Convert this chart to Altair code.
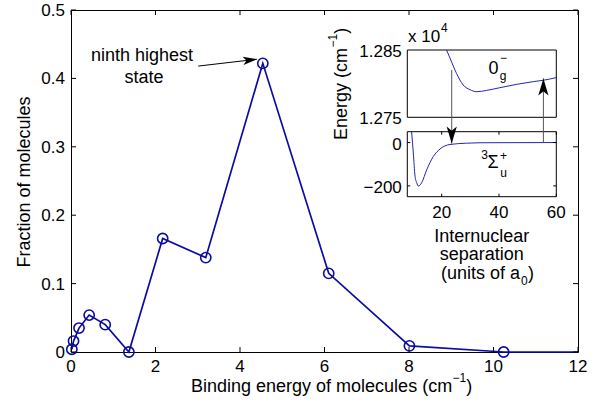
import altair as alt
import pandas as pd

# ---------------- data ----------------
binding_energy = [0.02, 0.06, 0.19, 0.43, 0.81, 1.37, 2.17, 3.19, 4.54, 6.10, 8.01, 10.24]
fraction = [0.004, 0.016, 0.035, 0.054, 0.040, 0.000, 0.166, 0.138, 0.422, 0.115, 0.009, 0.000]
tail_energy = [12.0]
tail_fraction = [0.0]

main_x_domain = [0, 12]
main_y_domain = [0, 0.5]
main_x_ticks = [0, 2, 4, 6, 8, 10, 12]
main_x_labels = ["0", "2", "4", "6", "8", "10", "12"]
main_y_ticks = [0, 0.1, 0.2, 0.3, 0.4, 0.5]
main_y_labels = ["0", "0.1", "0.2", "0.3", "0.4", "0.5"]
main_x_title = ["Binding energy of molecules (cm", "−1", ")"]
main_y_title = "Fraction of molecules"

note_lines = ["ninth highest", "state"]
note_x = [1.68, 1.73]
note_y = [0.4254, 0.3933]
note_arrow_tail = [3.01, 0.418]
note_arrow_tip = [4.40, 0.428]

inset_x_domain = [8, 60]
inset_x_ticks = [20, 40, 60]
inset_x_labels = ["20", "40", "60"]
inset_x_title = ["Internuclear", "separation"]
inset_x_title_last = ["(units of a", "0", ")"]
inset_y_title = ["Energy (cm", "−1", ")"]
upper_y_domain = [12750, 12850]
upper_y_labels = ["1.275", "1.285"]
upper_scale_note = ["x 10", "4"]
lower_y_domain = [-250, 50]
lower_y_ticks = [-200, 0]
lower_y_labels = ["−200", "0"]

upper_sep = [21.7, 22.9, 25.2, 27.5, 29.9, 32.2, 35.7, 40.3, 46.2, 52.0, 55.4, 60.0]
upper_energy = [12850, 12838, 12815, 12798, 12791, 12788, 12790, 12794, 12799, 12803, 12805, 12809]
lower_sep = [9.5, 10.1, 10.7, 11.3, 11.8, 12.4, 13.0, 14.8, 17.1, 19.4, 22.9, 28.7, 33.4, 60.0]
lower_energy = [50, -48, -155, -186, -201, -197, -186, -125, -64, -30, -9, -3, -1, 0]

arrow_sep = [23.5, 55.5]
arrow_from = [335, 0]
arrow_to = [-5, 296]
arrow_angle = [90, 270]

# ---------------- styles / layout ----------------
FONT = "Liberation Sans"
FS = 17     # tick labels
FT = 18     # titles / annotations
FSUB = 12   # sub- and superscripts
BLUE = "#0c0ca2"
BLUE2 = "#2424b4"
W, H = 507, 342
INSET_X_RANGE = [336.3, 485.3]
UPPER_RANGE = [107.3, 40.0]
LOWER_RANGE = [186.7, 121.7]
ARROW = "M0,0 L-2,-0.6 L-1.5,0 L-2,0.6 Z"


def txt(df, x, y, text=None, **kw):
    style = dict(font=FONT, fontSize=FS, color="black", align="center", baseline="alphabetic")
    style.update(kw)
    if text is not None:
        style["text"] = text
        return alt.Chart(df).mark_text(**style).encode(x=x, y=y)
    return alt.Chart(df).mark_text(**style).encode(x=x, y=y, text="lab:N")


one = pd.DataFrame({"k": [0]})

# ---------------- main plot ----------------
xs = alt.Scale(domain=main_x_domain, nice=False, zero=False)
ys = alt.Scale(domain=main_y_domain, nice=False, zero=False)
def MX(f): return alt.X(f, type="quantitative", scale=xs, axis=None)
def MY(f): return alt.Y(f, type="quantitative", scale=ys, axis=None)

main_df = pd.DataFrame({"e": binding_energy, "f": fraction})
line_df = pd.DataFrame({"e": binding_energy + tail_energy, "f": fraction + tail_fraction})

line = alt.Chart(line_df).mark_line(color=BLUE, strokeWidth=1.7).encode(x=MX("e"), y=MY("f"))
pts = alt.Chart(main_df).mark_point(shape="circle", filled=False, color=BLUE, size=105,
                                    strokeWidth=1.6, opacity=1).encode(x=MX("e"), y=MY("f"))

xt = pd.DataFrame({"e": main_x_ticks, "lab": main_x_labels,
                   "lo": main_y_domain[0], "hi": main_y_domain[1]})
yt = pd.DataFrame({"f": main_y_ticks, "lab": main_y_labels,
                   "lo": main_x_domain[0], "hi": main_x_domain[1]})
tick_b = alt.Chart(xt).mark_rule(color="black", strokeWidth=1, y2Offset=-5).encode(
    x=MX("e"), y=MY("lo"), y2="lo:Q")
tick_t = alt.Chart(xt).mark_rule(color="black", strokeWidth=1, y2Offset=5).encode(
    x=MX("e"), y=MY("hi"), y2="hi:Q")
tick_l = alt.Chart(yt).mark_rule(color="black", strokeWidth=1, x2Offset=5).encode(
    y=MY("f"), x=MX("lo"), x2="lo:Q")
tick_r = alt.Chart(yt).mark_rule(color="black", strokeWidth=1, x2Offset=-5).encode(
    y=MY("f"), x=MX("hi"), x2="hi:Q")

xlab = txt(xt, MX("e"), MY("lo"), dy=20)
ylab = txt(yt, MX("lo"), MY("f"), align="right", baseline="middle", dx=-6, dy=1)
xtitle = [
    txt(one, alt.value(120), alt.value(381.7), text=main_x_title[0], fontSize=FT, align="left"),
    txt(one, alt.value(381.5), alt.value(372), text=main_x_title[1], fontSize=FSUB, align="left"),
    txt(one, alt.value(395.2), alt.value(381.7), text=main_x_title[2], fontSize=FT, align="left"),
]
ytitle = txt(one, alt.value(-41), alt.value(172), text=main_y_title, angle=270, fontSize=FT)

note_df = pd.DataFrame({"e": note_x, "f": note_y, "lab": note_lines})
note_text = txt(note_df, MX("e"), MY("f"), fontSize=FT)
arr_df = pd.DataFrame({"e": [note_arrow_tail[0]], "f": [note_arrow_tail[1]],
                       "e2": [note_arrow_tip[0]], "f2": [note_arrow_tip[1]]})
note_rule = alt.Chart(arr_df).mark_rule(color="black", strokeWidth=1).encode(
    x=MX("e"), y=MY("f"), x2="e2:Q", y2="f2:Q")
note_head = alt.Chart(arr_df).mark_point(shape=ARROW, filled=True, color="black", size=196,
                                         angle=353.4, opacity=1, strokeWidth=0).encode(
    x=MX("e2"), y=MY("f2"))

main = alt.layer(line, pts, tick_b, tick_t, tick_l, tick_r, xlab, ylab, *xtitle, ytitle,
                 note_text, note_rule, note_head)

# ---------------- inset: upper panel ----------------
xi = alt.Scale(domain=inset_x_domain, range=INSET_X_RANGE, nice=False, zero=False)
yu = alt.Scale(domain=upper_y_domain, range=UPPER_RANGE, nice=False, zero=False)
yl = alt.Scale(domain=lower_y_domain, range=LOWER_RANGE, nice=False, zero=False)
def IX(f): return alt.X(f, type="quantitative", scale=xi, axis=None)
def UY(f): return alt.Y(f, type="quantitative", scale=yu, axis=None)
def LY(f): return alt.Y(f, type="quantitative", scale=yl, axis=None)

up_box_df = pd.DataFrame({"r": [inset_x_domain[0]], "r2": [inset_x_domain[1]],
                          "E": [upper_y_domain[0]], "E2": [upper_y_domain[1]]})
up_box = alt.Chart(up_box_df).mark_rect(fill="white", stroke="black", strokeWidth=1).encode(
    x=IX("r"), x2="r2:Q", y=UY("E"), y2="E2:Q")
up_df = pd.DataFrame({"r": upper_sep, "E": upper_energy})
up_curve = alt.Chart(up_df).mark_line(color=BLUE2, strokeWidth=1, interpolate="monotone").encode(
    x=IX("r"), y=UY("E"))

uyl_df = pd.DataFrame({"E": upper_y_domain, "lab": upper_y_labels, "r0": inset_x_domain[0]})
up_ylab = txt(uyl_df, IX("r0"), UY("E"), align="right", baseline="middle", dx=-5.5, dy=2)
up_title = [
    txt(one, alt.value(275.7), alt.value(130), text=inset_y_title[0], angle=270,
        fontSize=FT, align="left"),
    txt(one, alt.value(266), alt.value(37.5), text=inset_y_title[1], angle=270,
        fontSize=FSUB, align="left"),
    txt(one, alt.value(275.7), alt.value(23.8), text=inset_y_title[2], angle=270,
        fontSize=FT, align="left"),
]

x10_df = pd.DataFrame({"r": [8.24], "E": [12862]})
x10 = txt(x10_df, IX("r"), UY("E"), text=upper_scale_note[0], align="left")
x10_exp = txt(x10_df, IX("r"), UY("E"), text=upper_scale_note[1], align="left",
              fontSize=FSUB, dx=33, dy=-9.5)

og_df = pd.DataFrame({"r": [38.1], "E": [12815]})
og_main = txt(og_df, IX("r"), UY("E"), text="0", fontSize=FT)
og_sub = txt(og_df, IX("r"), UY("E"), text="g", fontSize=FSUB, dx=9.5, dy=6)
og_sup = txt(og_df, IX("r"), UY("E"), text="−", fontSize=FSUB, dx=10, dy=-12)

upper = alt.layer(up_box, up_curve, up_ylab, *up_title, x10, x10_exp, og_main, og_sub, og_sup)

# ---------------- inset: lower panel ----------------
lo_box_df = pd.DataFrame({"r": [inset_x_domain[0]], "r2": [inset_x_domain[1]],
                          "E": [lower_y_domain[0]], "E2": [lower_y_domain[1]]})
lo_box = alt.Chart(lo_box_df).mark_rect(fill="white", stroke="black", strokeWidth=1).encode(
    x=IX("r"), x2="r2:Q", y=LY("E"), y2="E2:Q")
lo_df = pd.DataFrame({"r": lower_sep, "E": lower_energy})
lo_curve = alt.Chart(lo_df).mark_line(color=BLUE2, strokeWidth=1, interpolate="monotone").encode(
    x=IX("r"), y=LY("E"))

ixt = pd.DataFrame({"r": inset_x_ticks, "lab": inset_x_labels,
                    "lo": lower_y_domain[0], "hi": lower_y_domain[1]})
iyt = pd.DataFrame({"E": lower_y_ticks, "lab": lower_y_labels,
                    "lo": inset_x_domain[0], "hi": inset_x_domain[1]})
itb = alt.Chart(ixt).mark_rule(color="black", strokeWidth=1, y2Offset=-3).encode(
    x=IX("r"), y=LY("lo"), y2="lo:Q")
itt = alt.Chart(ixt).mark_rule(color="black", strokeWidth=1, y2Offset=3).encode(
    x=IX("r"), y=LY("hi"), y2="hi:Q")
itl = alt.Chart(iyt).mark_rule(color="black", strokeWidth=1, x2Offset=3).encode(
    y=LY("E"), x=IX("lo"), x2="lo:Q")
itr = alt.Chart(iyt).mark_rule(color="black", strokeWidth=1, x2Offset=-3).encode(
    y=LY("E"), x=IX("hi"), x2="hi:Q")
ixlab = txt(ixt, IX("r"), LY("lo"), dy=21.5)
iylab = txt(iyt, IX("lo"), LY("E"), align="right", baseline="middle", dx=-5.5, dy=2)
ititle = [txt(one, alt.value(410.8), alt.value(yy), text=t, fontSize=FT)
          for t, yy in zip(inset_x_title, [231.7, 250.4])]
ititle += [
    txt(one, alt.value(449), alt.value(269.0), text=inset_x_title_last[0], fontSize=FT, align="right"),
    txt(one, alt.value(450), alt.value(275.0), text=inset_x_title_last[1], fontSize=FSUB, align="left"),
    txt(one, alt.value(457), alt.value(269.0), text=inset_x_title_last[2], fontSize=FT, align="left"),
]

sg_df = pd.DataFrame({"r": [37.9], "E": [-118]})
sigma = [txt(sg_df, IX("r"), LY("E"), text="Σ", fontSize=FT),
         txt(sg_df, IX("r"), LY("E"), text="3", fontSize=FSUB, dx=-8.5, dy=-9),
         txt(sg_df, IX("r"), LY("E"), text="+", fontSize=FSUB, dx=10.5, dy=-8),
         txt(sg_df, IX("r"), LY("E"), text="u", fontSize=FSUB, dx=10.5, dy=9)]

ar_df = pd.DataFrame({"r": arrow_sep, "E": arrow_from, "E2": arrow_to, "a": arrow_angle})
ar_rule = alt.Chart(ar_df).mark_rule(color="#555555", strokeWidth=1).encode(
    x=IX("r"), y=LY("E"), y2="E2:Q")
ar_head = alt.Chart(ar_df).mark_point(shape=ARROW, filled=True, color="black", size=289,
                                      opacity=1, strokeWidth=0).encode(
    x=IX("r"), y=LY("E2"), angle=alt.Angle("a:Q", scale=None))

lower = alt.layer(lo_box, lo_curve, itb, itt, itl, itr, ixlab, iylab, *ititle, *sigma,
                  ar_rule, ar_head)

chart = alt.layer(main, upper, lower).resolve_scale(
    x="independent", y="independent"
).properties(
    width=W, height=H, autosize="none",
    padding={"left": 71, "top": 10, "right": 19, "bottom": 54},
).configure(font=FONT).configure_view(
    stroke="black", strokeWidth=1
)

chart.save("out.html", embed_options={"renderer": "svg", "actions": False})
